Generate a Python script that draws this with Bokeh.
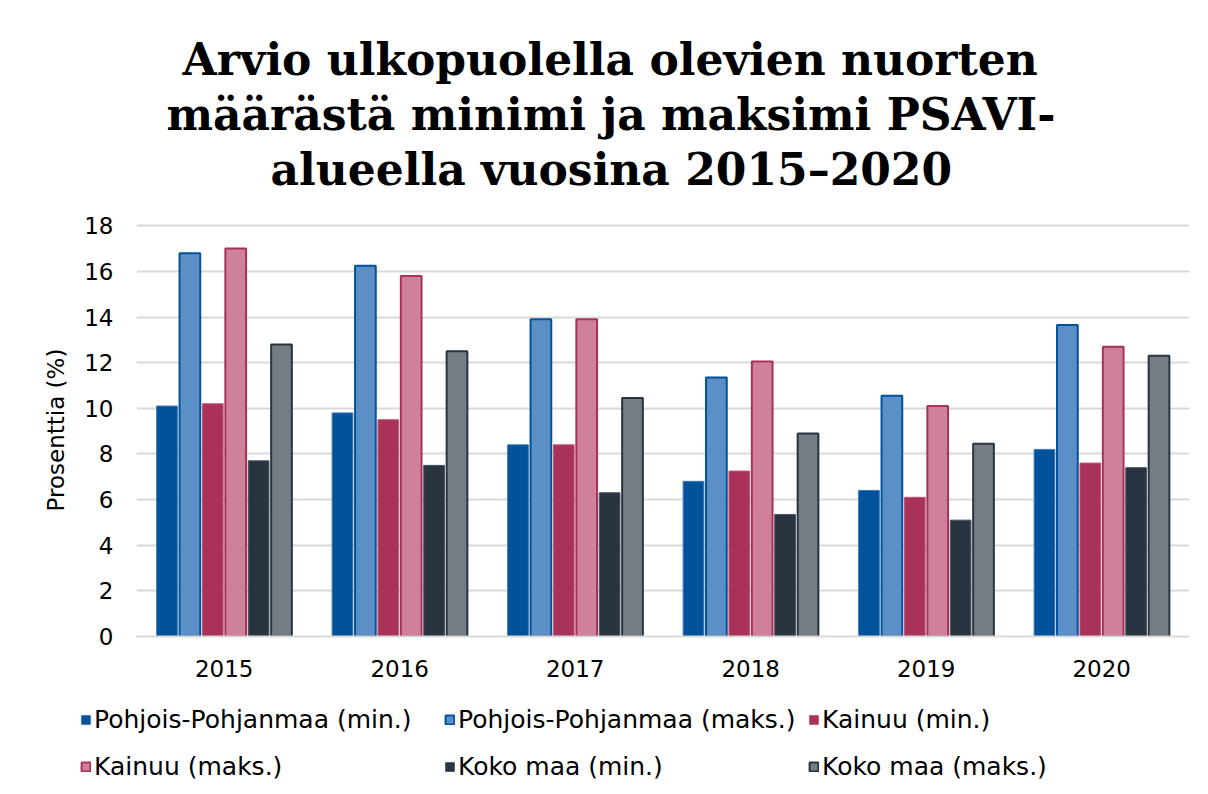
from bokeh.plotting import figure
from bokeh.models import ColumnDataSource, Legend, LegendItem, Title, FactorRange, Range1d
from bokeh.layouts import column
from bokeh.transform import dodge
from bokeh.embed import file_html
from bokeh.resources import INLINE

years = ["2015", "2016", "2017", "2018", "2019", "2020"]
pp_min = [10.1, 9.8, 8.4, 6.8, 6.4, 8.2]
pp_max = [16.8, 16.25, 13.9, 11.35, 10.55, 13.65]
k_min = [10.2, 9.5, 8.4, 7.25, 6.1, 7.6]
k_max = [17.0, 15.8, 13.9, 12.05, 10.1, 12.7]
km_min = [7.7, 7.5, 6.3, 5.35, 5.1, 7.4]
km_max = [12.8, 12.5, 10.45, 8.9, 8.45, 12.3]
series_names = ["Pohjois-Pohjanmaa (min.)", "Pohjois-Pohjanmaa (maks.)", "Kainuu (min.)",
                "Kainuu (maks.)", "Koko maa (min.)", "Koko maa (maks.)"]
title_lines = ["Arvio ulkopuolella olevien nuorten",
               "määrästä minimi ja maksimi PSAVI-",
               "alueella vuosina 2015–2020"]
y_ticks = [0, 2, 4, 6, 8, 10, 12, 14, 16, 18]

source = ColumnDataSource(dict(year=years, pp_min=pp_min, pp_max=pp_max, k_min=k_min,
                               k_max=k_max, km_min=km_min, km_max=km_max))

p = figure(width=1200, height=690, x_range=FactorRange(*years), y_range=Range1d(0, 18.1),
           output_backend="svg", toolbar_location=None, frame_align=False,
           min_border_left=136, min_border_right=11, min_border_top=223, min_border_bottom=54)

fills = ["#00539B", "#5B8FC5", "#A8325A", "#CE8199", "#293441", "#767C83"]
lines = ["#3F78B5", "#00539B", "#C0557A", "#A8325A", "#4A5563", "#293441"]
widths = [1, 2, 1, 2, 1, 2]
cols = ["pp_min", "pp_max", "k_min", "k_max", "km_min", "km_max"]
step = 0.1305
for i, c in enumerate(cols):
    p.vbar(x=dodge("year", (i - 2.5) * step, range=p.x_range), top=c, width=0.118,
           source=source, fill_color=fills[i], line_color=lines[i], line_width=widths[i])

# spacer between the title block and the plot frame
p.add_layout(Title(text=" ", text_font_size="23px", standoff=0), "above")
title_offsets = [46, 30, 134]
for t, off in reversed(list(zip(title_lines, title_offsets))):
    p.add_layout(Title(text=t, align="left", offset=off, text_font="DejaVu Serif",
                       text_font_style="bold", text_font_size="44px", text_color="#000000",
                       standoff=2), "above")

p.xgrid.grid_line_color = None
p.ygrid.grid_line_color = "#D9D9D9"
p.ygrid.grid_line_width = 2
p.ygrid.ticker = y_ticks
p.yaxis.ticker = y_ticks
p.outline_line_color = None

p.yaxis.axis_line_color = None
p.yaxis.major_tick_line_color = None
p.yaxis.minor_tick_line_color = None
p.yaxis.major_label_standoff = 17
p.yaxis.major_label_text_font = "DejaVu Sans"
p.yaxis.major_label_text_font_size = "23px"
p.yaxis.major_label_text_color = "#000000"
p.yaxis.axis_label = "Prosenttia (%)"
p.yaxis.axis_label_text_font = "DejaVu Sans"
p.yaxis.axis_label_text_font_size = "23px"
p.yaxis.axis_label_text_font_style = "normal"
p.yaxis.axis_label_text_color = "#000000"
p.yaxis.axis_label_standoff = 12

p.xaxis.axis_line_color = "#D9D9D9"
p.xaxis.axis_line_width = 2
p.xaxis.major_tick_line_color = None
p.xaxis.minor_tick_line_color = None
p.xaxis.major_label_standoff = 17
p.xaxis.major_label_text_font = "DejaVu Sans"
p.xaxis.major_label_text_font_size = "23px"
p.xaxis.major_label_text_color = "#000000"

# legend strip below the chart (its renderers are hidden; only legend swatches show)
lg = figure(width=1200, height=100, output_backend="svg", toolbar_location=None,
            x_range=FactorRange(*years), y_range=Range1d(-200, -199), frame_align=False,
            x_axis_location=None, y_axis_location=None,
            min_border_left=0, min_border_right=0, min_border_top=0, min_border_bottom=0)
lg.grid.grid_line_color = None
lg.outline_line_color = None
legend_renderers = []
for i, c in enumerate(cols):
    r = lg.vbar(x=dodge("year", (i - 2.5) * step, range=lg.x_range), top=c, width=0.118,
                source=source, fill_color=fills[i], line_color=lines[i], line_width=widths[i])
    r.visible = False
    legend_renderers.append(r)
items = [LegendItem(label=n, renderers=[r]) for n, r in zip(series_names, legend_renderers)]
legend = Legend(items=items, ncols=3, location=(80, 2), orientation="horizontal",
                label_text_font="DejaVu Sans", label_text_font_size="25px",
                label_text_color="#000000", glyph_width=11, glyph_height=11,
                label_standoff=3, label_height=43, label_width=346, spacing=4,
                border_line_color=None, background_fill_alpha=0, padding=0, margin=0)
lg.add_layout(legend, "center")

open("out.html", "w").write(file_html(column(p, lg, spacing=0), INLINE))
